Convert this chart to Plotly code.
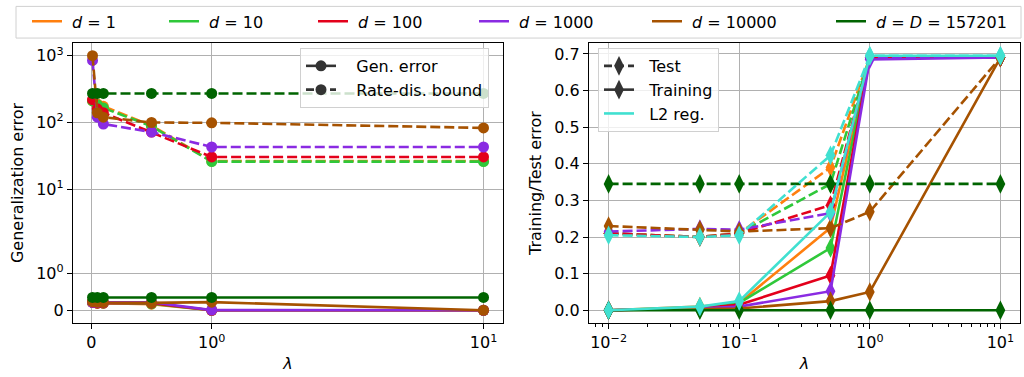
import numpy as np
import plotly.graph_objects as go

# ---------------- data ----------------
lam = [0.01, 0.05, 0.1, 0.5, 1, 10]
dim_labels = ["<i>d</i> = 1", "<i>d</i> = 10", "<i>d</i> = 100", "<i>d</i> = 1000",
              "<i>d</i> = 10000", "<i>d</i> = <i>D</i> = 157201"]
colors = ["#ff7f0e", "#2fc83a", "#e3001b", "#8a2be2", "#a65200", "#006400"]
l2_color = "#40e0d0"

# left panel: generalization error (solid) and rate-distortion bound (dashed)
gen_d1 = [0.21, 0.19, 0.19, 0.165, 0.0, 0.0]
gen_d10 = [0.21, 0.19, 0.19, 0.175, 0.0, 0.0]
gen_d100 = [0.21, 0.19, 0.195, 0.19, 0.0, 0.0]
gen_d1000 = [0.215, 0.215, 0.21, 0.215, 0.005, 0.0]
gen_d10000 = [0.23, 0.217, 0.21, 0.2, 0.219, 0.0]
gen_dD = [0.345, 0.345, 0.345, 0.345, 0.345, 0.345]

bound_d1 = [210, 190, 175, 90, 26.5, 26.5]
bound_d10 = [210, 185, 165, 88, 26, 26]
bound_d100 = [220, 160, 140, 72, 30.5, 30.5]
bound_d1000 = [850, 120, 95, 72, 43, 43]
bound_d10000 = [1000, 140, 120, 100, 99, 83]
bound_dD = [272, 272, 272, 272, 272, 272]

# right panel: test (dashed) and training (solid) error
test_d1 = [0.21, 0.20, 0.21, 0.39, 0.69, 0.69]
test_d10 = [0.21, 0.20, 0.21, 0.345, 0.69, 0.69]
test_d100 = [0.21, 0.20, 0.21, 0.287, 0.69, 0.69]
test_d1000 = [0.215, 0.222, 0.22, 0.265, 0.69, 0.69]
test_d10000 = [0.23, 0.22, 0.215, 0.224, 0.269, 0.69]
test_dD = [0.345, 0.345, 0.345, 0.345, 0.345, 0.345]
test_l2 = [0.205, 0.20, 0.205, 0.423, 0.695, 0.695]

train_d1 = [0.0, 0.01, 0.02, 0.225, 0.69, 0.69]
train_d10 = [0.0, 0.008, 0.02, 0.17, 0.69, 0.69]
train_d100 = [0.0, 0.006, 0.015, 0.095, 0.69, 0.69]
train_d1000 = [0.0, 0.005, 0.01, 0.052, 0.685, 0.69]
train_d10000 = [0.0, 0.003, 0.005, 0.025, 0.05, 0.69]
train_dD = [0.0, 0.0, 0.0, 0.0, 0.0, 0.0]
train_l2 = [0.0, 0.01, 0.025, 0.268, 0.695, 0.695]

# small error bars on the test error of d = 1000
test_d1000_err = [0.0, 0.012, 0.02, 0.0, 0.0, 0.0]

gen = [gen_d1, gen_d10, gen_d100, gen_d1000, gen_d10000, gen_dD]
bound = [bound_d1, bound_d10, bound_d100, bound_d1000, bound_d10000, bound_dD]
test = [test_d1, test_d10, test_d100, test_d1000, test_d10000, test_dD]
train = [train_d1, train_d10, train_d100, train_d1000, train_d10000, train_dD]

sym_ticks = [0, 1, 10, 100, 1000]
sym_ticktext = ["0", "10<sup>0</sup>", "10<sup>1</sup>", "10<sup>2</sup>", "10<sup>3</sup>"]
logx_ticks = [0.01, 0.1, 1, 10]
logx_ticktext = ["10<sup>−2</sup>", "10<sup>−1</sup>", "10<sup>0</sup>", "10<sup>1</sup>"]


def symlog(v, linthresh=2.0, base=10.0, linscale=1.0):
    a = np.asarray(v, dtype=float)
    adj = linscale / (1.0 - 1.0 / base)
    absa = np.abs(a)
    with np.errstate(divide="ignore"):
        out = np.sign(a) * linthresh * (adj + np.log(np.maximum(absa, 1e-300) / linthresh) / np.log(base))
    return np.where(absa <= linthresh, a * adj, out)


# ---------------- geometry ----------------
W, H = 1024, 377
ML, MR, MT, MB = 73, 4, 40, 54
PW, PH = W - ML - MR, H - MT - MB


def px(x):
    return (x - ML) / PW


def py(y):
    return (H - MB - y) / PH


DASH = "10px,4px"
LW = 2.6
NB = "\u00a0"

fig = go.Figure()

# left panel
for i in range(6):
    fig.add_trace(go.Scatter(x=symlog(lam), y=symlog(gen[i]), mode="lines+markers",
                             line=dict(color=colors[i], width=LW),
                             marker=dict(symbol="circle", size=11, color=colors[i]),
                             showlegend=False, xaxis="x", yaxis="y"))
    fig.add_trace(go.Scatter(x=symlog(lam), y=symlog(bound[i]), mode="lines+markers",
                             line=dict(color=colors[i], width=LW, dash=DASH),
                             marker=dict(symbol="circle", size=11, color=colors[i]),
                             showlegend=False, xaxis="x", yaxis="y"))

# right panel
for i in range(6):
    err = dict(type="data", array=test_d1000_err, color=colors[i], thickness=2, width=0) if i == 3 else None
    fig.add_trace(go.Scatter(x=lam, y=test[i], mode="lines+markers",
                             line=dict(color=colors[i], width=LW, dash=DASH),
                             marker=dict(symbol="diamond-tall", size=14, color=colors[i]),
                             error_y=err,
                             showlegend=False, xaxis="x2", yaxis="y2"))
    fig.add_trace(go.Scatter(x=lam, y=train[i], mode="lines+markers",
                             line=dict(color=colors[i], width=LW),
                             marker=dict(symbol="diamond-tall", size=14, color=colors[i]),
                             showlegend=False, xaxis="x2", yaxis="y2"))
fig.add_trace(go.Scatter(x=lam, y=test_l2, mode="lines+markers",
                         line=dict(color=l2_color, width=LW, dash=DASH),
                         marker=dict(symbol="diamond-tall", size=14, color=l2_color),
                         showlegend=False, xaxis="x2", yaxis="y2"))
fig.add_trace(go.Scatter(x=lam, y=train_l2, mode="lines+markers",
                         line=dict(color=l2_color, width=LW),
                         marker=dict(symbol="diamond-tall", size=14, color=l2_color),
                         showlegend=False, xaxis="x2", yaxis="y2"))

# top legend entries (one legend each, for exact placement)
top_names = ["legend", "legend2", "legend3", "legend4", "legend5", "legend6"]
top_line_starts = [22, 159, 308, 469, 642, 826]
legend_layouts = {}
for i in range(6):
    fig.add_trace(go.Scatter(x=[None], y=[None], mode="lines", name=NB + dim_labels[i],
                             line=dict(color=colors[i], width=LW),
                             legend=top_names[i], xaxis="x", yaxis="y"))
    legend_layouts[top_names[i]] = dict(
        x=px(top_line_starts[i] + 5), y=py(1), xanchor="left", yanchor="top",
        bgcolor="rgba(0,0,0,0)", borderwidth=0, font=dict(size=16, color="black"),
        orientation="v")

# inset legends
fig.add_trace(go.Scatter(x=[None], y=[None], mode="lines+markers", name=NB * 3 + "Gen. error",
                         line=dict(color="#333333", width=LW),
                         marker=dict(symbol="circle", size=11, color="#333333"),
                         legend="legend7", xaxis="x", yaxis="y"))
fig.add_trace(go.Scatter(x=[None], y=[None], mode="lines+markers", name=NB * 3 + "Rate-dis. bound",
                         line=dict(color="#333333", width=LW, dash="8px,4px"),
                         marker=dict(symbol="circle", size=11, color="#333333"),
                         legend="legend7", xaxis="x", yaxis="y"))
fig.add_trace(go.Scatter(x=[None], y=[None], mode="lines+markers", name=NB * 2 + "Test",
                         line=dict(color="#333333", width=LW, dash="8px,4px"),
                         marker=dict(symbol="diamond-tall", size=14, color="#333333"),
                         legend="legend8", xaxis="x2", yaxis="y2"))
fig.add_trace(go.Scatter(x=[None], y=[None], mode="lines+markers", name=NB * 2 + "Training",
                         line=dict(color="#333333", width=LW),
                         marker=dict(symbol="diamond-tall", size=14, color="#333333"),
                         legend="legend8", xaxis="x2", yaxis="y2"))
fig.add_trace(go.Scatter(x=[None], y=[None], mode="lines", name=NB * 2 + "L2 reg.",
                         line=dict(color=l2_color, width=LW),
                         legend="legend8", xaxis="x2", yaxis="y2"))

legend_layouts["legend7"] = dict(x=px(300), y=py(45), xanchor="left", yanchor="top",
                                 bgcolor="rgba(255,255,255,0.8)", bordercolor="#d0d0d0",
                                 borderwidth=1, font=dict(size=16, color="black"))
legend_layouts["legend8"] = dict(x=px(598), y=py(45), xanchor="left", yanchor="top",
                                 bgcolor="rgba(255,255,255,0.8)", bordercolor="#d0d0d0",
                                 borderwidth=1, font=dict(size=16, color="black"))

axis_common = dict(showline=True, linecolor="black", linewidth=1.3, mirror=True,
                   ticks="outside", ticklen=5, tickwidth=1.2, tickcolor="black",
                   showgrid=True, gridcolor="#b0b0b0", gridwidth=1, zeroline=False,
                   automargin=False, tickfont=dict(size=16, color="black"))

x_split_left = (503 - ML) / PW
x_split_right = (589 - ML) / PW

fig.update_layout(
    width=W, height=H,
    margin=dict(l=ML, r=MR, t=MT, b=MB),
    paper_bgcolor="white", plot_bgcolor="white",
    font=dict(family="DejaVu Sans", size=16, color="black"),
    xaxis=dict(domain=[0, x_split_left], range=[-0.169, 3.80],
               tickmode="array", tickvals=symlog(sym_ticks[:3]).tolist(), ticktext=sym_ticktext[:3],
               title=dict(text="<i>λ</i>", standoff=6, font=dict(size=16)), **axis_common),
    yaxis=dict(domain=[0, 1], range=[-0.381, 8.0],
               tickmode="array", tickvals=symlog(sym_ticks).tolist(), ticktext=sym_ticktext,
               title=dict(text="Generalization error", standoff=8, font=dict(size=16)), **axis_common),
    xaxis2=dict(domain=[x_split_right, 1], type="log", range=[-2.15, 1.15],
                tickmode="array", tickvals=logx_ticks, ticktext=logx_ticktext,
                minor=dict(ticks="outside", ticklen=3, tickwidth=1, tickcolor="black", dtick="D1", showgrid=False),
                title=dict(text="<i>λ</i>", standoff=6, font=dict(size=16)), anchor="y2", **axis_common),
    yaxis2=dict(domain=[0, 1], range=[-0.0348, 0.7298], anchor="x2",
                tickmode="array", tickvals=[0, 0.1, 0.2, 0.3, 0.4, 0.5, 0.6, 0.7],
                ticktext=["0.0", "0.1", "0.2", "0.3", "0.4", "0.5", "0.6", "0.7"],
                title=dict(text="Training/Test error", standoff=8, font=dict(size=16)), **axis_common),
    shapes=[dict(type="rect", xref="paper", yref="paper", x0=px(16), x1=px(1021), y0=py(35), y1=py(3),
                 line=dict(color="#d0d0d0", width=1), fillcolor="white", layer="below")],
    **legend_layouts,
)

fig.write_html("out.html")
